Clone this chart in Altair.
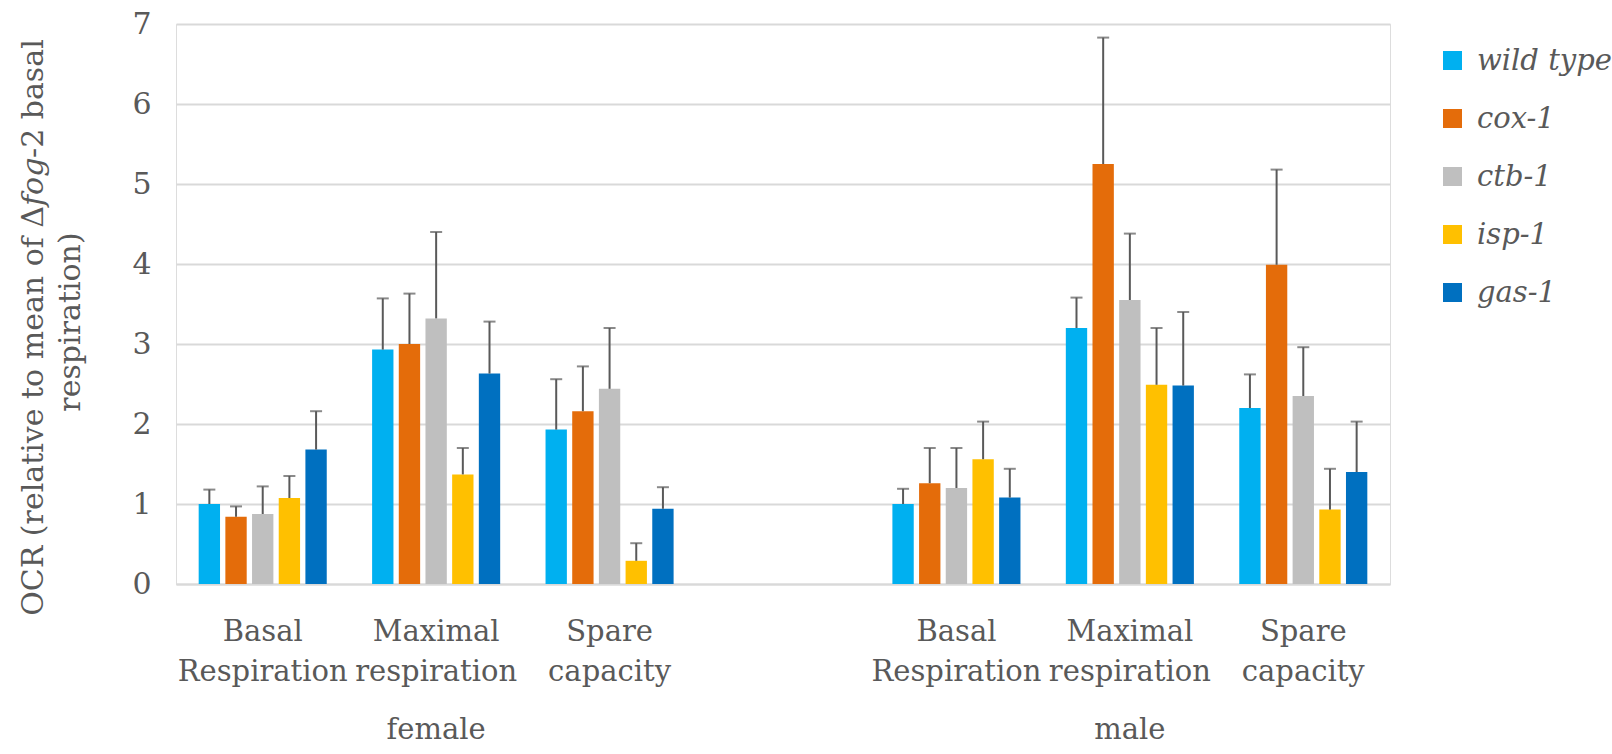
import altair as alt
import pandas as pd

# Series and groups
strains = ["wild type", "cox-1", "ctb-1", "isp-1", "gas-1"]
colors = ["#00B0F0", "#E46C0A", "#BFBFBF", "#FFC000", "#0070C0"]
measures = ["Basal Respiration", "Maximal respiration", "Spare capacity"]
sexes = ["female", "male"]

# Mean OCR (relative to mean of fog-2 basal respiration), one value per strain
female_basal = [1.00, 0.84, 0.875, 1.075, 1.68]
female_maximal = [2.93, 3.00, 3.32, 1.37, 2.63]
female_spare = [1.93, 2.16, 2.44, 0.29, 0.94]
male_basal = [1.00, 1.26, 1.20, 1.56, 1.08]
male_maximal = [3.20, 5.25, 3.55, 2.49, 2.48]
male_spare = [2.20, 3.99, 2.35, 0.93, 1.40]

# Top of the upper error bar for each mean
female_basal_upper = [1.18, 0.97, 1.22, 1.35, 2.16]
female_maximal_upper = [3.57, 3.63, 4.40, 1.70, 3.28]
female_spare_upper = [2.56, 2.72, 3.20, 0.51, 1.21]
male_basal_upper = [1.19, 1.70, 1.70, 2.03, 1.44]
male_maximal_upper = [3.58, 6.83, 4.38, 3.20, 3.40]
male_spare_upper = [2.62, 5.18, 2.96, 1.44, 2.03]

y_ticks = [0, 1, 2, 3, 4, 5, 6, 7]

means = {
    "female": [female_basal, female_maximal, female_spare],
    "male": [male_basal, male_maximal, male_spare],
}
uppers = {
    "female": [female_basal_upper, female_maximal_upper, female_spare_upper],
    "male": [male_basal_upper, male_maximal_upper, male_spare_upper],
}

rows = []
for sex in sexes:
    for m, measure in enumerate(measures):
        for s, strain in enumerate(strains):
            rows.append({
                "slot": f"{sex}|{measure}",
                "strain": strain,
                "ocr": means[sex][m][s],
                "upper": uppers[sex][m][s],
            })
df = pd.DataFrame(rows)

slots = [f"female|{m}" for m in measures] + ["gap"] + [f"male|{m}" for m in measures]
group_df = pd.DataFrame({"slot": [f"{s}|{measures[1]}" for s in sexes], "label": sexes})

FONT = "DejaVu Serif"
TEXT = "#595959"
GRID = "#D9D9D9"

x_enc = alt.X(
    "slot:N",
    scale=alt.Scale(domain=slots, paddingInner=0, paddingOuter=0),
    axis=alt.Axis(
        title=None,
        labelExpr="datum.value == 'gap' ? '' : split(split(datum.value, '|')[1], ' ')",
        labelAngle=0,
        labelFont=FONT,
        labelFontSize=29,
        labelColor=TEXT,
        labelLineHeight=40,
        labelBaseline="alphabetic",
        labelPadding=56,
        labelLimit=0,
        labelOverlap=False,
        labelBound=False,
        labelFlush=False,
        ticks=False,
        domainColor=GRID,
        domainWidth=2,
        grid=False,
    ),
)
x_off = alt.XOffset(
    "strain:N",
    scale=alt.Scale(domain=strains, paddingInner=0.2, paddingOuter=0.85),
)
y_enc = alt.Y(
    "ocr:Q",
    scale=alt.Scale(domain=[0, 7], nice=False),
    axis=alt.Axis(
        title=None,
        values=y_ticks,
        format="d",
        labelFont=FONT,
        labelFontSize=30,
        labelColor=TEXT,
        labelPadding=25,
        ticks=False,
        domain=False,
        gridColor=GRID,
        gridWidth=2,
    ),
)

bars = alt.Chart(df).mark_bar().encode(
    x=x_enc,
    xOffset=x_off,
    y=y_enc,
    color=alt.Color(
        "strain:N",
        scale=alt.Scale(domain=strains, range=colors),
        legend=alt.Legend(
            title=None,
            orient="none",
            legendX=1262,
            legendY=22,
            padding=0,
            symbolType="square",
            symbolSize=361,
            symbolStrokeWidth=0,
            labelFont=FONT,
            labelFontSize=29,
            labelFontStyle="italic",
            labelColor=TEXT,
            labelOffset=10,
            labelLimit=300,
            rowPadding=28,
        ),
    ),
)

err_line = alt.Chart(df).mark_rule(color="#595959", strokeWidth=2).encode(
    x="slot:N", xOffset="strain:N", y="ocr:Q", y2="upper:Q"
)
err_cap = alt.Chart(df).mark_tick(color="#595959", thickness=2, size=12, orient="horizontal").encode(
    x="slot:N", xOffset="strain:N", y="upper:Q"
)

groups = alt.Chart(group_df).mark_text(
    font=FONT, fontSize=29, color=TEXT, baseline="alphabetic"
).encode(x="slot:N", y=alt.value(715), text="label:N")

# Rotated y-axis title, with the gene name set in italics
one = alt.Data(values=[{}])
title_kw = dict(font=FONT, fontSize=30, color=TEXT, angle=270, baseline="middle")
title_a = alt.Chart(one).mark_text(text="OCR (relative to mean of \u0394", align="right", **title_kw).encode(
    x=alt.value(-142), y=alt.value(182))
title_b = alt.Chart(one).mark_text(text="fog", align="left", fontStyle="italic", **title_kw).encode(
    x=alt.value(-142), y=alt.value(182))
title_c = alt.Chart(one).mark_text(text="-2 basal", align="left", **title_kw).encode(
    x=alt.value(-142), y=alt.value(134))
title_d = alt.Chart(one).mark_text(text="respiration)", align="center", **title_kw).encode(
    x=alt.value(-105), y=alt.value(298))

chart = alt.layer(bars, err_line, err_cap, groups, title_a, title_b, title_c, title_d).properties(
    width=1214,
    height=560,
    padding={"left": 176, "top": 24, "right": 222, "bottom": 170},
    autosize=alt.AutoSizeParams(type="none"),
).configure_view(stroke=None).configure(background="white")

chart.save("out.html", embed_options={"renderer": "svg", "actions": False})
